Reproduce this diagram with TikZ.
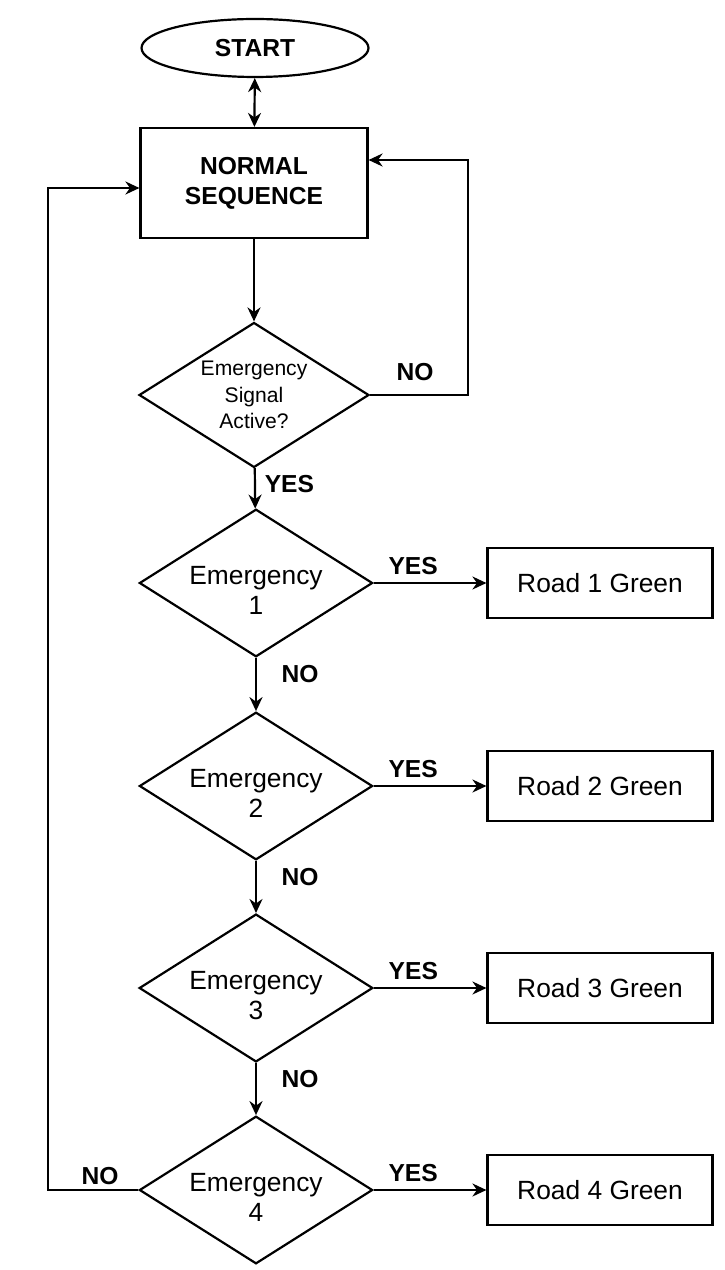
\documentclass[tikz,border=0pt]{standalone}
\usepackage{fontspec}
\setmainfont{Liberation Sans}
\usepackage[svgnames]{xcolor}
\usepackage{tikz}
\usetikzlibrary{shapes.geometric,arrows.meta}
\colorlet{flowLine}{black}
\colorlet{boxFill}{white}

\begin{document}
\begin{tikzpicture}[
  x=0.02cm,
  y=-0.02cm,
  every node/.style={
    inner sep=0pt,
  },
  terminal/.style={
    ellipse,
    draw=flowLine,
    fill=boxFill,
    line width=1.25pt,
    minimum width=4.54cm,
    minimum height=1.16cm,
    font=\fontsize{14}{17}\selectfont\bfseries
  },
  process/.style={
    rectangle,
    draw=flowLine,
    fill=boxFill,
    line width=1.25pt,
    minimum width=4.54cm,
    minimum height=2.2cm,
    align=center,
    font=\fontsize{14}{17}\selectfont\bfseries
  },
  road/.style={
    rectangle,
    draw=flowLine,
    fill=boxFill,
    line width=1.25pt,
    minimum width=4.5cm,
    minimum height=1.4cm,
    font=\fontsize{15}{18}\selectfont
  },
  decision/.style={
    diamond,
    draw=flowLine,
    fill=boxFill,
    line width=1.25pt,
    aspect=1.58,
    minimum width=4.6cm,
    minimum height=2.9cm,
    align=center,
    font=\fontsize{15}{17}\selectfont
  },
  flow/.style={
    draw=flowLine,
    line width=1.25pt,
    -{Stealth[length=2.8mm,width=2.6mm]}
  },
  lbl/.style={
    font=\fontsize{14}{17}\selectfont\bfseries
  }
]
\useasboundingbox (0,0) rectangle (724,1270);

\node[terminal] (start) at (255,48) {START};
\node[process] (norm) at (254,183) {NORMAL\\SEQUENCE};
\node[decision,font=\fontsize{12}{15}\selectfont] (sig) at (254,395) {Emergency\\Signal\\Active?};

\foreach \k/\y in {1/583,2/786,3/988,4/1190} {
  \node[decision] (em\k) at (256,\y) {\rule{0pt}{19pt}Emergency\\\k};
  \node[road] (road\k) at (600,\y) {Road \k{} Green};
  \draw[flow] (em\k.east) -- node[lbl,pos=0.35,above=4pt] {YES} (road\k.west);
}
\foreach[evaluate=\k as \kpo using int(\k+1)] \k in {1,2,3} {
  \draw[flow] (em\k) -- node[lbl,pos=0.3,right=14pt] {NO} (em\kpo);
}

\draw[flow,{Stealth[length=2.8mm,width=2.6mm]}-{Stealth[length=2.8mm,width=2.6mm]}] (start) -- (norm);
\draw[flow] (norm) -- (sig);
\draw[flow] (sig) -- node[lbl,pos=0.4,right=5pt] {YES} (em1);

% loops back to the normal sequence
\coordinate (backR) at (468,160);
\coordinate (backL) at (48,188);
\draw[flow] (sig.east) -| (backR) -- (norm.east |- backR);
\node[lbl] (noR) at (415,372) {NO};
\draw[flow] (em4.west) -| (backL) -- (norm.west |- backL);
\node[lbl] (noL) at (100,1176) {NO};
\end{tikzpicture}
\end{document}
